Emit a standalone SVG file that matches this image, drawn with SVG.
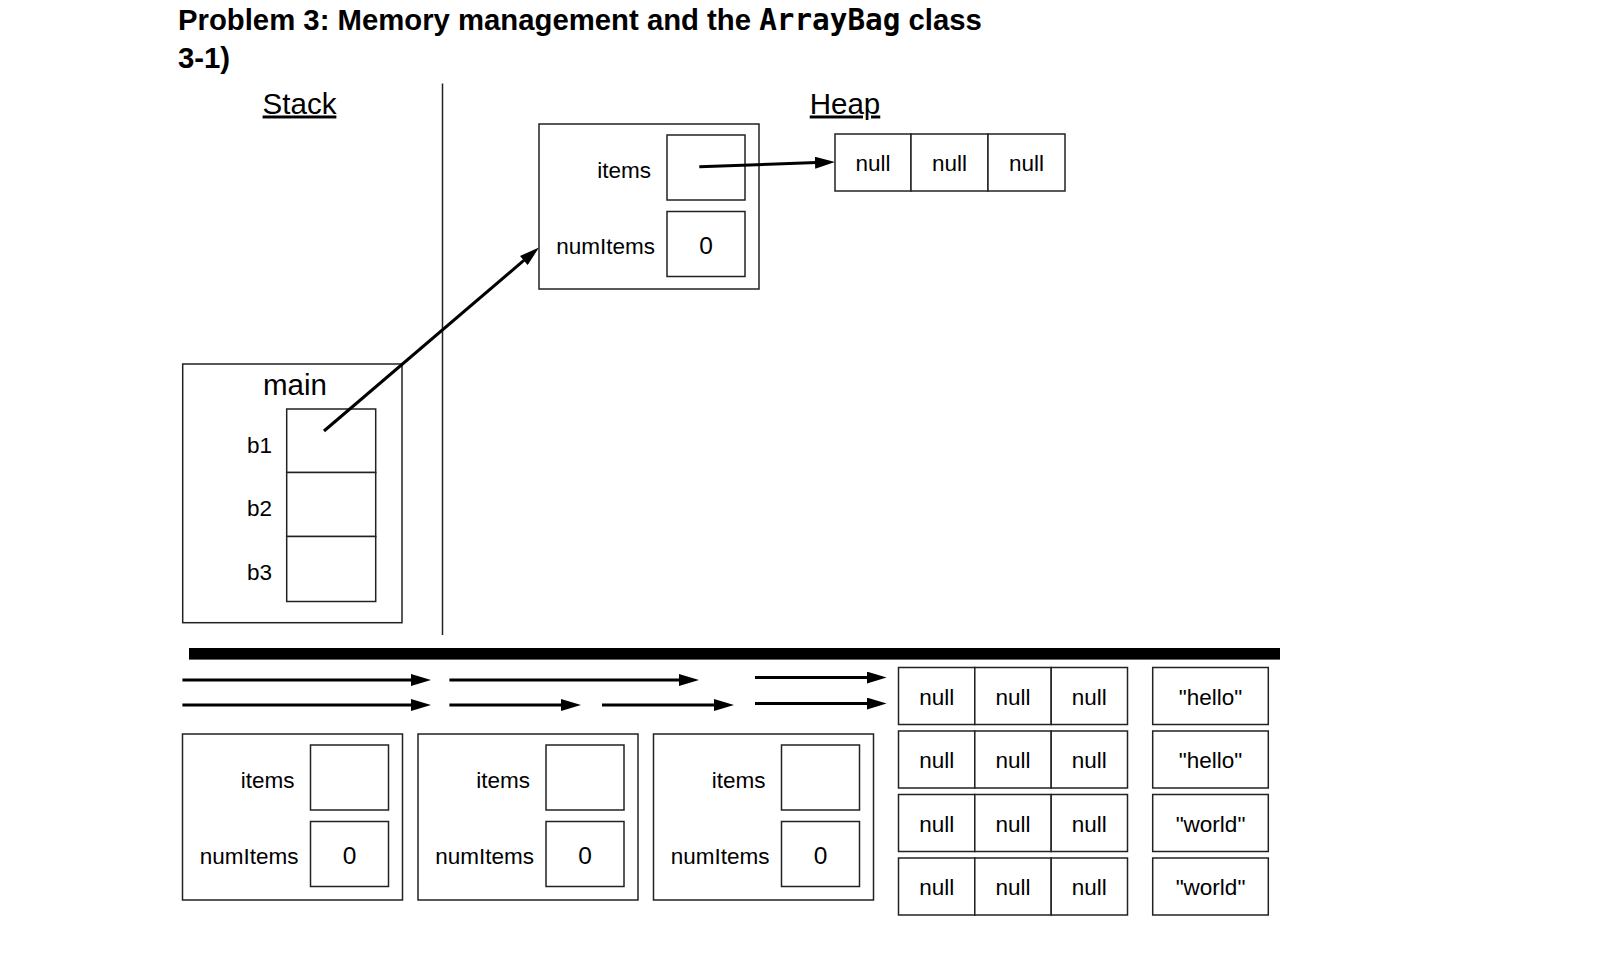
<svg xmlns="http://www.w3.org/2000/svg" width="1598" height="962" viewBox="0 0 1598 962">
<style>
.box{fill:#fff;stroke:#222;stroke-width:1.5}
.t{font-family:"Liberation Sans",Arial,sans-serif;font-size:22.5px;fill:#000}
.z{font-size:24.5px}
.c{text-anchor:middle}
.e{text-anchor:end}
.big{font-family:"Liberation Sans",Arial,sans-serif;font-size:29.5px;fill:#000}
.title{font-family:"Liberation Sans",Arial,sans-serif;font-size:29.3px;font-weight:bold;fill:#000}
.mono{font-family:"DejaVu Sans Mono","Liberation Mono",monospace;font-weight:bold}
.conn{stroke:#000;stroke-width:3;fill:none;marker-end:url(#ah)}
</style>
<defs>
<marker id="ah" markerUnits="userSpaceOnUse" markerWidth="20" markerHeight="12" refX="2" refY="6" orient="auto">
<path d="M0,0 L20,6 L0,12 z" fill="#000"/>
</marker>
</defs>
<rect width="1598" height="962" fill="#fff"/>

<g id="titles">
<text class="title" x="178" y="29.5">Problem 3: Memory management and the <tspan class="mono">ArrayBag</tspan> class</text>
<text class="title" x="178" y="68">3-1)</text>
<text class="big c" x="299.5" y="113.5" text-decoration="underline">Stack</text>
<text class="big c" x="845" y="113.5" text-decoration="underline">Heap</text>
</g>

<g id="dividers">
<line x1="442.5" y1="83.5" x2="442.5" y2="635" stroke="#222" stroke-width="1.5"/>
<rect x="189" y="648" width="1091" height="11.6" fill="#000"/>
</g>

<g id="main-frame">
<rect class="box" x="182.7" y="364" width="219.3" height="258.7"/>
<text class="big c" x="295" y="395">main</text>
<rect class="box" x="286.7" y="409" width="89" height="63.5"/>
<rect class="box" x="286.7" y="472.5" width="89" height="64"/>
<rect class="box" x="286.7" y="536.5" width="89" height="65"/>
<text class="t" x="247" y="453">b1</text>
<text class="t" x="247" y="516">b2</text>
<text class="t" x="247" y="579.5">b3</text>
</g>

<g id="heap-bag">
<rect class="box" x="539" y="124" width="220" height="165"/>
<rect class="box" x="667" y="135" width="78" height="65"/>
<rect class="box" x="667" y="211.5" width="78" height="65"/>
<text class="t e" x="651" y="178">items</text>
<text class="t e" x="655" y="254">numItems</text>
<text class="t z c" x="706" y="254">0</text>
</g>

<g id="heap-array">
<rect class="box" x="835" y="134" width="76" height="57"/>
<rect class="box" x="911" y="134" width="77" height="57"/>
<rect class="box" x="988" y="134" width="77" height="57"/>
<text class="t c" x="873" y="171">null</text>
<text class="t c" x="949.5" y="171">null</text>
<text class="t c" x="1026.5" y="171">null</text>
</g>

<g id="bag1">
<rect class="box" x="182.5" y="734" width="220" height="166"/>
<rect class="box" x="310.5" y="745" width="78" height="65"/>
<rect class="box" x="310.5" y="821.5" width="78" height="65"/>
<text class="t e" x="294.5" y="788">items</text>
<text class="t e" x="298.5" y="864">numItems</text>
<text class="t z c" x="349.5" y="864">0</text>
</g>

<g id="bag2">
<rect class="box" x="418" y="734" width="220" height="166"/>
<rect class="box" x="546" y="745" width="78" height="65"/>
<rect class="box" x="546" y="821.5" width="78" height="65"/>
<text class="t e" x="530" y="788">items</text>
<text class="t e" x="534" y="864">numItems</text>
<text class="t z c" x="585" y="864">0</text>
</g>

<g id="bag3">
<rect class="box" x="653.5" y="734" width="220" height="166"/>
<rect class="box" x="781.5" y="745" width="78" height="65"/>
<rect class="box" x="781.5" y="821.5" width="78" height="65"/>
<text class="t e" x="765.5" y="788">items</text>
<text class="t e" x="769.5" y="864">numItems</text>
<text class="t z c" x="820.5" y="864">0</text>
</g>

<g id="arrays">
<g id="array1">
<rect class="box" x="898.5" y="667.5" width="76.3" height="57"/>
<rect class="box" x="974.8" y="667.5" width="76.4" height="57"/>
<rect class="box" x="1051.2" y="667.5" width="76.3" height="57"/>
<text class="t c" x="936.7" y="704.5">null</text>
<text class="t c" x="1013" y="704.5">null</text>
<text class="t c" x="1089.3" y="704.5">null</text>
</g>
<g id="array2">
<rect class="box" x="898.5" y="731" width="76.3" height="57"/>
<rect class="box" x="974.8" y="731" width="76.4" height="57"/>
<rect class="box" x="1051.2" y="731" width="76.3" height="57"/>
<text class="t c" x="936.7" y="768">null</text>
<text class="t c" x="1013" y="768">null</text>
<text class="t c" x="1089.3" y="768">null</text>
</g>
<g id="array3">
<rect class="box" x="898.5" y="794.5" width="76.3" height="57"/>
<rect class="box" x="974.8" y="794.5" width="76.4" height="57"/>
<rect class="box" x="1051.2" y="794.5" width="76.3" height="57"/>
<text class="t c" x="936.7" y="831.5">null</text>
<text class="t c" x="1013" y="831.5">null</text>
<text class="t c" x="1089.3" y="831.5">null</text>
</g>
<g id="array4">
<rect class="box" x="898.5" y="858" width="76.3" height="57"/>
<rect class="box" x="974.8" y="858" width="76.4" height="57"/>
<rect class="box" x="1051.2" y="858" width="76.3" height="57"/>
<text class="t c" x="936.7" y="895">null</text>
<text class="t c" x="1013" y="895">null</text>
<text class="t c" x="1089.3" y="895">null</text>
</g>
</g>

<g id="strings">
<g id="str1"><rect class="box" x="1152.7" y="667.5" width="115.6" height="57"/><text class="t c" x="1210.5" y="704.5">"hello"</text></g>
<g id="str2"><rect class="box" x="1152.7" y="731" width="115.6" height="57"/><text class="t c" x="1210.5" y="768">"hello"</text></g>
<g id="str3"><rect class="box" x="1152.7" y="794.5" width="115.6" height="57"/><text class="t c" x="1210.5" y="831.5">"world"</text></g>
<g id="str4"><rect class="box" x="1152.7" y="858" width="115.6" height="57"/><text class="t c" x="1210.5" y="895">"world"</text></g>
</g>

<g id="connectors">
<line class="conn" x1="324" y1="431" x2="525.3" y2="259.2"/>
<line class="conn" x1="699.3" y1="166.7" x2="817" y2="162.6"/>
<line class="conn" x1="182.4" y1="680" x2="413" y2="680"/>
<line class="conn" x1="449.4" y1="680" x2="681" y2="680"/>
<line class="conn" x1="755" y1="677.5" x2="868.6" y2="677.5"/>
<line class="conn" x1="182.4" y1="705" x2="413" y2="705"/>
<line class="conn" x1="449.4" y1="705" x2="563" y2="705"/>
<line class="conn" x1="602" y1="705" x2="716" y2="705"/>
<line class="conn" x1="755" y1="703.5" x2="868.6" y2="703.5"/>
</g>
</svg>
